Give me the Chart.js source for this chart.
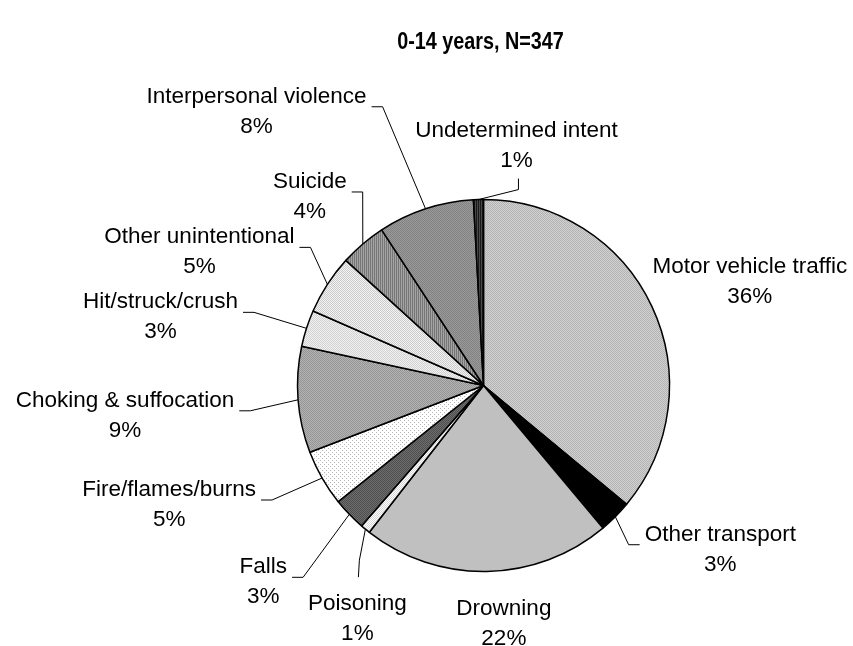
<!DOCTYPE html>
<html>
<head>
<meta charset="utf-8">
<script src="https://cdn.jsdelivr.net/npm/chart.js@4.4.0/dist/chart.umd.min.js"></script>
<style>
  html, body { margin: 0; padding: 0; background: #fff; }
  #wrap { width: 853px; height: 646px; position: relative; }
</style>
</head>
<body>
<div id="wrap"><canvas id="pie"></canvas></div>
<script>
// Injury deaths by cause, children 0-14

var chartTitle = '0-14 years, N=347';

var categories = ['Motor vehicle traffic', 'Other transport', 'Drowning', 'Poisoning', 'Falls',
    'Fire/flames/burns', 'Choking & suffocation', 'Hit/struck/crush', 'Other unintentional',
    'Suicide', 'Interpersonal violence', 'Undetermined intent'];

var deaths = [125, 10, 75, 3, 10, 17, 32, 11, 18, 14, 29, 3];

// fill per slice: [pattern, background, foreground]
var fills = [
    ['dots', '#d2d2d2', '#b2b2b2'],
    ['solid', '#000000'],
    ['solid', '#c0c0c0'],
    ['dots', '#ffffff', '#d6d6d6'],
    ['dots', '#6e6e6e', '#4e4e4e'],
    ['sparse', '#ffffff', '#b4b4b4'],
    ['dots', '#b4b4b4', '#949494'],
    ['dots', '#f0f0f0', '#d2d2d2'],
    ['dots', '#f4f4f4', '#cacaca'],
    ['vstripes', '#a4a4a4', '#767676'],
    ['dots', '#9a9a9a', '#828282'],
    ['vstripes', '#4a4a4a', '#1a1a1a']
];

// label offset from the slice's outer midpoint [dx, dy to first baseline, leader type]
var labelLayout = [
    [98, -33, 'none'],
    [105, 24, 'right'],
    [17, 44, 'none'],
    [-8, 81, 'below'],
    [-86, 59, 'left'],
    [-153, 18, 'left'],
    [-173, 7, 'left'],
    [-146, -20, 'left'],
    [-128, -41, 'left'],
    [-53, -56, 'left'],
    [-169, -106, 'left'],
    [38, -63, 'above']
];

var FONT = '22.5px "Liberation Sans", Arial, sans-serif';
var LINE_GAP = 30;

function makeFill(spec) {
    if (spec[0] === 'solid') return spec[1];
    var c = document.createElement('canvas');
    c.width = 4; c.height = 4;
    var g = c.getContext('2d');
    g.fillStyle = spec[1];
    g.fillRect(0, 0, 4, 4);
    g.fillStyle = spec[2];
    if (spec[0] === 'dots') {
        for (var y = 0; y < 4; y++)
            for (var x = 0; x < 4; x++)
                if ((x + y) % 2 === 0) g.fillRect(x, y, 1, 1);
    } else if (spec[0] === 'sparse') {
        g.fillRect(0, 0, 1, 1);
        g.fillRect(2, 2, 1, 1);
    } else if (spec[0] === 'vstripes') {
        g.fillRect(0, 0, 1, 4);
        g.fillRect(2, 0, 1, 4);
    }
    return g.createPattern(c, 'repeat');
}

var total = deaths.reduce(function (a, b) { return a + b; }, 0);

var pieLabels = {
    id: 'pieLabels',
    afterDatasetsDraw: function (chart) {
        var ctx = chart.ctx;
        var meta = chart.getDatasetMeta(0);
        ctx.save();
        ctx.fillStyle = '#000';
        ctx.strokeStyle = '#000';
        ctx.lineWidth = 1;

        // title: narrow bold face, so squeeze a larger size horizontally
        var cx0 = (chart.chartArea.left + chart.chartArea.right) / 2;
        ctx.save();
        ctx.translate(cx0 - 3, 43);
        ctx.scale(0.86, 1);
        ctx.font = 'bold 23px "Liberation Sans", Arial, sans-serif';
        ctx.textAlign = 'center';
        ctx.textBaseline = 'middle';
        ctx.fillText(chartTitle, 0, 0);
        ctx.restore();

        ctx.font = FONT;
        ctx.textAlign = 'center';
        ctx.textBaseline = 'alphabetic';
        meta.data.forEach(function (arc, i) {
            var p = arc.getProps(['x', 'y', 'startAngle', 'endAngle', 'outerRadius'], true);
            var mid = (p.startAngle + p.endAngle) / 2;
            var ax = p.x + Math.cos(mid) * p.outerRadius;
            var ay = p.y + Math.sin(mid) * p.outerRadius;
            var lay = labelLayout[i];
            var lx = ax + lay[0];
            var by = ay + lay[1];
            var pct = Math.round(deaths[i] / total * 100) + '%';
            ctx.fillText(categories[i], lx, by);
            ctx.fillText(pct, lx, by + LINE_GAP);

            var w = ctx.measureText(categories[i]).width;
            var pts = null;
            if (lay[2] === 'left') {
                var sx = lx + w / 2 + 5;
                pts = [[sx, by + 4], [sx + 11, by + 4]];
            } else if (lay[2] === 'right') {
                var sx2 = lx - w / 2 - 5;
                pts = [[sx2, by + 4], [sx2 - 11, by + 4]];
            } else if (lay[2] === 'below') {
                pts = [[lx + 1, by - 33], [lx + 2, by - 50]];
            } else if (lay[2] === 'above') {
                pts = [[lx + 2, by + LINE_GAP + 12], [lx + 2, by + LINE_GAP + 23]];
            }
            if (pts) {
                ctx.beginPath();
                ctx.moveTo(pts[0][0], pts[0][1]);
                ctx.lineTo(pts[1][0], pts[1][1]);
                ctx.lineTo(ax, ay);
                ctx.stroke();
            }
        });
        ctx.restore();
    }
};

new Chart(document.getElementById('pie'), {
    type: 'pie',
    data: {
        labels: categories,
        datasets: [{
            data: deaths,
            backgroundColor: fills.map(makeFill),
            borderColor: '#000',
            borderWidth: 1.5
        }]
    },
    options: {
        responsive: true,
        maintainAspectRatio: false,
        animation: false,
        layout: { padding: { left: 296.75, top: 198.75, right: 182.75, bottom: 73.75 } },
        plugins: {
            legend: { display: false },
            tooltip: { enabled: false },
            title: { display: false }
        }
    },
    plugins: [pieLabels]
});
</script>
</body>
</html>
